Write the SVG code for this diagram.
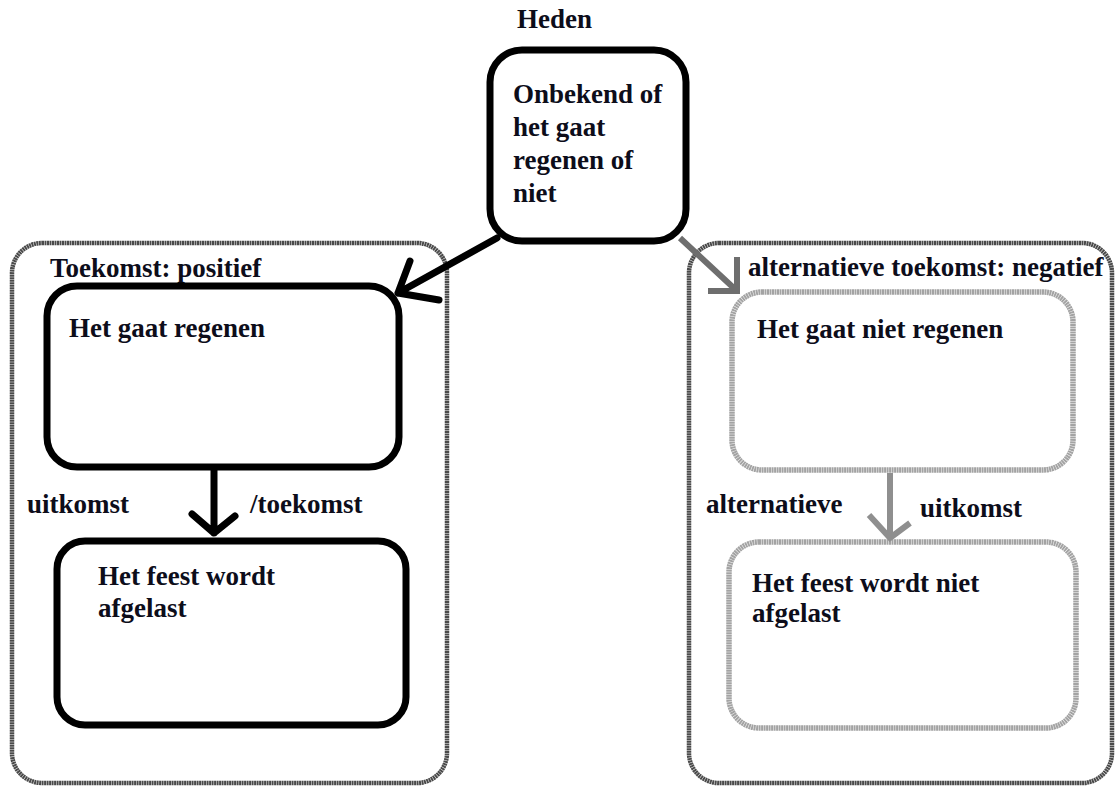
<svg xmlns="http://www.w3.org/2000/svg" width="1116" height="787" viewBox="0 0 1116 787">
<style>
text{font-family:"Liberation Serif","Times New Roman",serif;font-weight:bold;font-size:27px;fill:#0d0d1a}
.container{fill:none;stroke:#4a4a4a;stroke-width:4.5;stroke-dasharray:2 0.5}
.nodeblack{fill:#fff;stroke:#000;stroke-width:7}
.nodegray{fill:#fff;stroke:#a3a3a3;stroke-width:5.5;stroke-dasharray:2 0.5}
.cblack{fill:none;stroke:#000;stroke-width:7;stroke-linecap:round;stroke-linejoin:round}
.cgray{fill:none;stroke:#8f8f8f;stroke-width:6;stroke-linecap:butt;stroke-linejoin:miter}
</style>
<rect width="1116" height="787" fill="#fff"/>
<g id="container-positief">
<rect class="container" x="12" y="243" width="435" height="540" rx="30"/>
<text x="50" y="277">Toekomst: positief</text>
</g>
<g id="container-negatief">
<rect class="container" x="689" y="243" width="423" height="540" rx="30"/>
<text x="748" y="276">alternatieve toekomst: negatief</text>
</g>
<g id="heden">
<text x="517" y="28">Heden</text>
<rect class="nodeblack" x="490" y="50" width="196" height="191" rx="32"/>
<text x="513" y="103">Onbekend of</text>
<text x="513" y="136">het gaat</text>
<text x="513" y="169">regenen of</text>
<text x="513" y="202">niet</text>
</g>
<g id="regenen">
<rect class="nodeblack" x="47" y="286" width="352" height="181" rx="30"/>
<text x="69" y="337">Het gaat regenen</text>
</g>
<g id="feest-afgelast">
<rect class="nodeblack" x="57" y="541" width="349" height="184" rx="28"/>
<text x="98" y="585">Het feest wordt</text>
<text x="98" y="617">afgelast</text>
</g>
<g id="niet-regenen">
<rect class="nodegray" x="732" y="292" width="341" height="178" rx="30"/>
<text x="757" y="338">Het gaat niet regenen</text>
</g>
<g id="feest-niet-afgelast">
<rect class="nodegray" x="729" y="542" width="347" height="186" rx="30"/>
<text x="752" y="592">Het feest wordt niet</text>
<text x="752" y="622">afgelast</text>
</g>
<g id="connectors">
<path class="cblack" d="M497 238 L398 293 M410 261 L398 293 L439 300"/>
<path class="cblack" d="M214 470 L214 533 M192 514 L214 533 L235 516"/>
<path class="cgray" d="M680 238 L737 291 M737 257 L737 291 L708 291" style="stroke:#6e6e6e"/>
<path class="cgray" d="M890 473 L890 538 M869 515 L890 538 L910 523"/>
<text x="27" y="513">uitkomst</text>
<text x="250" y="513">/toekomst</text>
<text x="706" y="513">alternatieve</text>
<text x="920" y="517">uitkomst</text>
</g>
</svg>
